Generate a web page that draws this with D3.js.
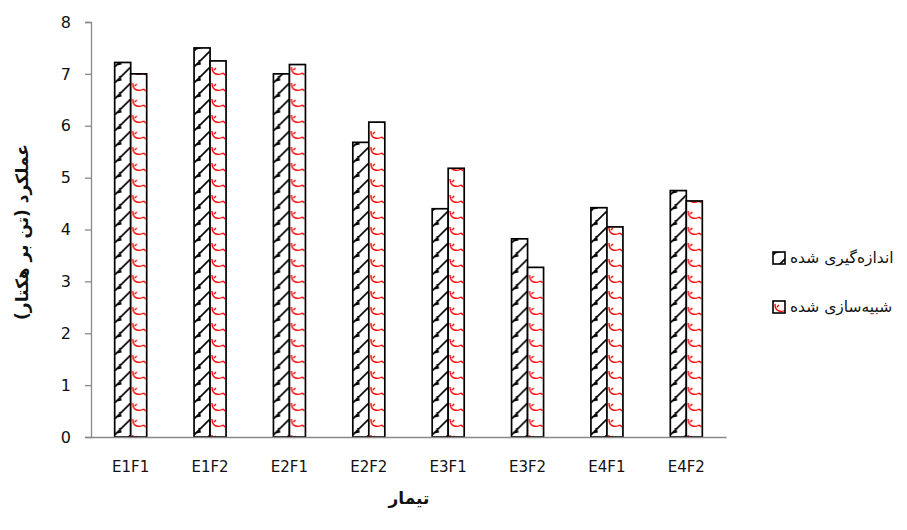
<!DOCTYPE html>
<html><head><meta charset="utf-8">
<script src="https://cdn.jsdelivr.net/npm/d3@7"></script>
<style>body{margin:0;background:#fff}svg{display:block}</style>
</head><body>
<svg id="c" width="907" height="530"></svg>
<script>
const categories = ["E1F1","E1F2","E2F1","E2F2","E3F1","E3F2","E4F1","E4F2"];
const measured = [7.22,7.5,7.0,5.68,4.4,3.82,4.42,4.75];
const simulated = [7.0,7.25,7.18,6.07,5.18,3.27,4.05,4.55];
const seriesNames = ["اندازه‌گیری شده","شبیه‌سازی شده"];
const yTicks = [0,1,2,3,4,5,6,7,8];
const yTitle = "عملکرد (تن بر هکتار)";
const xTitle = "تیمار";

(function(){
const svg = d3.select("#c");
const mL = 91, mR = 726, mT = 22, mB = 437;
const x0 = d3.scaleBand().domain(categories).range([mL, mR]);
const bw = x0.bandwidth();
const x1 = d3.scaleBand().domain([0,1]).range([bw/2-16, bw/2+16]);
const y = d3.scaleLinear().domain([0,8]).range([mB, mT]);

const defs = svg.append("defs");
const p1 = defs.append("pattern").attr("id","hatch").attr("patternUnits","userSpaceOnUse")
  .attr("width",16).attr("height",16).attr("patternTransform","translate(0,3)");
p1.append("rect").attr("width",16).attr("height",16).attr("fill","#fff");
p1.append("path").attr("d","M-1,17 L17,-1 M1,14 L6,13 L5,9").attr("stroke","#000").attr("stroke-width",1.6).attr("fill","none");
const p2 = defs.append("pattern").attr("id","wave").attr("patternUnits","userSpaceOnUse")
  .attr("width",16).attr("height",16);
p2.append("rect").attr("width",16).attr("height",16).attr("fill","#fff");
p2.append("path").attr("d","M2,3 Q2,9 6,10 Q10,11 13,9 M4,6 L6,4 M13,9 L15,11").attr("stroke","#f00").attr("stroke-width",1.4).attr("fill","none");

const yAxis = d3.axisLeft(y).tickValues(yTicks).tickSize(6).tickPadding(14).tickFormat(d3.format("d"));
const gy = svg.append("g").attr("transform",`translate(${mL},0)`).call(yAxis);
gy.select(".domain").attr("stroke","#888").attr("stroke-width",1.3);
gy.selectAll(".tick line").attr("stroke","#888").attr("stroke-width",1.3);
gy.selectAll(".tick text").attr("font-family","DejaVu Sans, Verdana, sans-serif").attr("font-size",16).attr("fill","#111");

const xAxis = d3.axisBottom(x0).tickSize(0).tickPadding(24);
const gx = svg.append("g").attr("transform",`translate(0,${mB})`).call(xAxis);
gx.select(".domain").attr("stroke","#888").attr("stroke-width",1.3);
gx.selectAll(".tick text").attr("font-family","DejaVu Sans, Verdana, sans-serif").attr("font-size",15).attr("fill","#111");

const data = categories.map((c,i)=>({c, v:[measured[i], simulated[i]]}));
const g = svg.append("g");
data.forEach(d=>{
  d.v.forEach((v,j)=>{
    g.append("g").attr("transform",`translate(${x0(d.c)+x1(j)},0)`)
     .append("rect")
      .attr("x", 0)
      .attr("y", y(v))
      .attr("width", x1.bandwidth())
      .attr("height", y(0)-y(v))
      .attr("fill", j===0 ? "url(#hatch)" : "url(#wave)")
      .attr("stroke","#000").attr("stroke-width",1.7);
  });
});
gx.raise();

svg.append("text").attr("transform",`translate(28,232) rotate(-90)`).attr("text-anchor","middle")
  .attr("font-family","DejaVu Sans, sans-serif").attr("font-size",17).attr("font-weight","bold").attr("fill","#111").text(yTitle);
svg.append("text").attr("x",409).attr("y",504).attr("text-anchor","middle")
  .attr("font-family","DejaVu Sans, sans-serif").attr("font-size",17).attr("font-weight","bold").attr("fill","#111").text(xTitle);

const leg = svg.append("g");
seriesNames.forEach((n,i)=>{
  const yy = 252 + i*49;
  const lg = leg.append("g").attr("transform",`translate(773,${yy})`);
  lg.append("rect").attr("x",0).attr("y",0).attr("width",12).attr("height",12)
    .attr("fill", i===0 ? "url(#hatch)" : "url(#wave)").attr("stroke","#000").attr("stroke-width",1.6);
  leg.append("text").attr("x",790).attr("y",yy+11).attr("text-anchor","start")
    .attr("font-family","DejaVu Sans, sans-serif").attr("font-size",15.5).attr("fill","#111").text(n);
});
})();
</script>
</body></html>
